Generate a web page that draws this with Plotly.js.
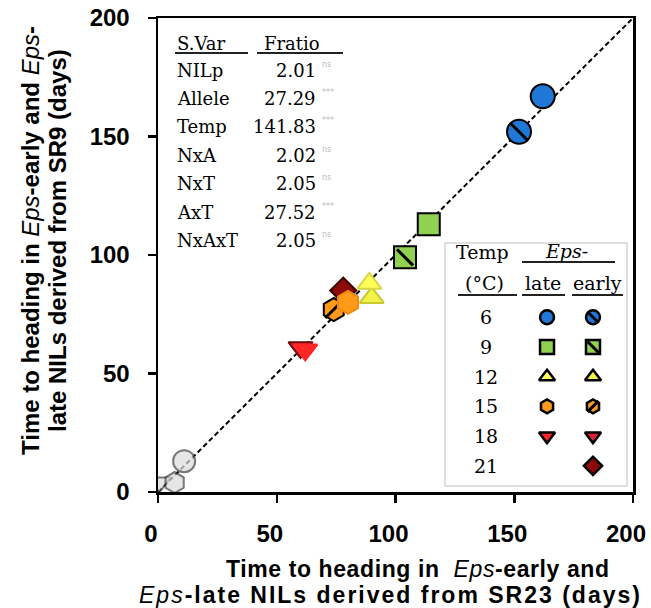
<!DOCTYPE html>
<html><head><meta charset="utf-8">
<script src="https://cdn.plot.ly/plotly-3.0.1.min.js"></script>
<style>html,body{margin:0;padding:0;background:#fff}</style>
</head><body><div id="chart" style="width:651px;height:608px"></div>
<script>
// ---- data ----
const temps = [6, 9, 12, 15, 18, 21];
const lateSR23  = [162, 114, 89, 80, 62, null];
const lateSR9   = [167, 113, 88, 80, 60, null];
const earlySR23 = [152, 104, 90, 74, 60, 78];
const earlySR9  = [152, 99, 82, 77, 61, 85];
const otherSR23 = [11, 0.5, 7];
const otherSR9  = [13, 4, 4];
const oneToOne  = [0, 200];
const axisTicks = [0, 50, 100, 150, 200];
const sourceVars = ['NILp', 'Allele', 'Temp', 'NxA', 'NxT', 'AxT', 'NxAxT'];
const fRatios    = ['2.01', '27.29', '141.83', '2.02', '2.05', '27.52', '2.05'];
const signif     = ['ns', '***', '***', 'ns', 'ns', '***', 'ns'];

// ---- styles ----
const symbols = ['circle', 'square', 'triangle-up', 'hexagon', 'triangle-down', 'diamond'];
const lateFill  = ['#1f78d6', '#92d050', '#ffff5a', '#ff9a1a', '#ff2626', '#8e0a0a'];
const lateEdge  = ['#000', '#000', '#d8d840', '#f08a10', '#ff2626', '#000'];
const earlyFill = ['#1f78d6', '#92d050', '#f2f24a', '#ff9a1a', '#e0203a', '#8e0a0a'];
const earlyEdge = ['#000', '#000', '#c8c830', '#000', '#6a0a0a', '#3a0000'];
const stripeSym = ['line-nw', 'line-nw', null, 'line-ne', null, null];
const mainSize = [24, 22, 21, 23, 21, 20];

// pixel -> paper helpers (plot area 158..633 x 18..492)
const L = 158, T = 18, PW = 475, PH = 474;
const px = x => (x - L) / PW;
const py = y => (T + PH - y) / PH;

const traces = [];
traces.push({x: oneToOne, y: oneToOne, mode: 'lines', type: 'scatter',
  line: {color: '#000', width: 2, dash: '5px,3px'}, hoverinfo: 'skip'});
traces.push({x: otherSR23, y: otherSR9, mode: 'markers', type: 'scatter',
  marker: {symbol: ['circle', 'triangle-down', 'hexagon'], size: [22, 20, 21],
    color: '#dcdcdc', line: {color: '#404040', width: 2}}});
// early
temps.forEach((t, i) => {
  if (earlySR23[i] == null) return;
  traces.push({x: [earlySR23[i]], y: [earlySR9[i]], mode: 'markers', type: 'scatter',
    marker: {symbol: symbols[i], size: mainSize[i], color: earlyFill[i], line: {color: earlyEdge[i], width: 2}}});
  if (stripeSym[i]) traces.push({x: [earlySR23[i]], y: [earlySR9[i]], mode: 'markers', type: 'scatter',
    marker: {symbol: stripeSym[i], size: mainSize[i] - 6, line: {color: '#000', width: 3}}});
});
// late
temps.forEach((t, i) => {
  if (lateSR23[i] == null) return;
  traces.push({x: [lateSR23[i]], y: [lateSR9[i]], mode: 'markers', type: 'scatter',
    marker: {symbol: symbols[i], size: mainSize[i], color: lateFill[i], line: {color: lateEdge[i], width: 2}}});
});
// legend-table markers (own hidden axes: x = column, y = row)
const rows = temps.map((t, i) => i);
const lateCol = temps.map(() => 0), earlyCol = temps.map(() => 1);
traces.push({x: lateCol.filter((c, i) => lateSR23[i] != null), y: rows.filter(i => lateSR23[i] != null),
  xaxis: 'x2', yaxis: 'y2', mode: 'markers', type: 'scatter',
  marker: {symbol: symbols.filter((s, i) => lateSR23[i] != null), size: 14,
    color: lateFill.filter((c, i) => lateSR23[i] != null), line: {color: '#000', width: 2.5}}});
traces.push({x: earlyCol, y: rows, xaxis: 'x2', yaxis: 'y2', mode: 'markers', type: 'scatter',
  marker: {symbol: symbols, size: 14, color: earlyFill, line: {color: '#000', width: 2.5}}});
traces.push({x: earlyCol.filter((c, i) => stripeSym[i]), y: rows.filter(i => stripeSym[i]),
  xaxis: 'x2', yaxis: 'y2', mode: 'markers', type: 'scatter',
  marker: {symbol: stripeSym.filter(s => s), size: 11, line: {color: '#000', width: 3}}});

const tickFont = {family: 'Liberation Sans, Arial', size: 24, color: '#000', weight: 'bold'};
const serif = {family: 'DejaVu Serif', size: 18, color: '#000'};
const legSerif = {family: 'DejaVu Serif', size: 19, color: '#000'};
const titleFont = {family: 'Liberation Sans, Arial', size: 23, color: '#000', weight: 'bold'};
const ytitleFont = {family: 'Liberation Sans, Arial', size: 24, color: '#000', weight: 'bold'};
const EPS = '<span style="font-weight:normal;font-style:italic">Eps</span>';

const ann = [];
const shapes = [];
// axis titles
ann.push({xref: 'paper', yref: 'paper', x: px(30), y: py(241), text: 'Time to heading in ' + EPS + '-early and ' + EPS + '-',
  textangle: -90, showarrow: false, font: ytitleFont, xanchor: 'center', yanchor: 'middle'});
ann.push({xref: 'paper', yref: 'paper', x: px(57), y: py(241), text: 'late NILs derived from SR9 (days)',
  textangle: -90, showarrow: false, font: ytitleFont, xanchor: 'center', yanchor: 'middle'});
ann.push({xref: 'paper', yref: 'paper', x: px(418), y: py(569),
  text: '<span style="letter-spacing:0.6px">Time to heading in  ' + EPS + '-early and</span>',
  showarrow: false, font: titleFont, xanchor: 'center', yanchor: 'middle'});
ann.push({xref: 'paper', yref: 'paper', x: px(390), y: py(595),
  text: '<span style="letter-spacing:2px">' + EPS + '-late NILs derived from SR23 (days)</span>',
  showarrow: false, font: titleFont, xanchor: 'center', yanchor: 'middle'});
// ANOVA table
ann.push({xref: 'paper', yref: 'paper', x: px(175), y: py(43), text: 'S.Var', showarrow: false, font: serif, xanchor: 'left', yanchor: 'middle'});
ann.push({xref: 'paper', yref: 'paper', x: px(262), y: py(43), text: 'Fratio', showarrow: false, font: serif, xanchor: 'left', yanchor: 'middle'});
shapes.push({type: 'line', xref: 'paper', yref: 'paper', x0: px(175), x1: px(248), y0: py(53), y1: py(53), line: {color: '#222', width: 2}});
shapes.push({type: 'line', xref: 'paper', yref: 'paper', x0: px(257), x1: px(343), y0: py(53), y1: py(53), line: {color: '#222', width: 2}});
sourceVars.forEach((v, i) => {
  const yy = 70 + i * 28.4;
  ann.push({xref: 'paper', yref: 'paper', x: px(175), y: py(yy), text: v, showarrow: false, font: serif, xanchor: 'left', yanchor: 'middle'});
  ann.push({xref: 'paper', yref: 'paper', x: px(318), y: py(yy), text: fRatios[i], showarrow: false, font: serif, xanchor: 'right', yanchor: 'middle'});
  ann.push({xref: 'paper', yref: 'paper', x: px(320), y: py(yy - 6), text: signif[i], showarrow: false,
    font: {family: 'DejaVu Sans', size: 8, color: '#b8b8b8'}, xanchor: 'left', yanchor: 'middle'});
});
// legend table
shapes.push({type: 'rect', xref: 'paper', yref: 'paper', x0: px(445), x1: px(627), y0: py(486), y1: py(243),
  fillcolor: '#fff', line: {color: '#d6d6d6', width: 1.5}, layer: 'below'});
ann.push({xref: 'paper', yref: 'paper', x: px(482), y: py(252), text: 'Temp', showarrow: false, font: legSerif, xanchor: 'center', yanchor: 'middle'});
ann.push({xref: 'paper', yref: 'paper', x: px(484), y: py(283), text: '(°C)', showarrow: false, font: legSerif, xanchor: 'center', yanchor: 'middle'});
ann.push({xref: 'paper', yref: 'paper', x: px(566), y: py(251), text: '<i>Eps</i>-', showarrow: false, font: legSerif, xanchor: 'center', yanchor: 'middle'});
ann.push({xref: 'paper', yref: 'paper', x: px(543), y: py(283), text: 'late', showarrow: false, font: legSerif, xanchor: 'center', yanchor: 'middle'});
ann.push({xref: 'paper', yref: 'paper', x: px(597), y: py(283), text: 'early', showarrow: false, font: legSerif, xanchor: 'center', yanchor: 'middle'});
[[522, 615, 262], [458, 517, 295], [522, 565, 295], [572, 623, 295]].forEach(s => {
  shapes.push({type: 'line', xref: 'paper', yref: 'paper', x0: px(s[0]), x1: px(s[1]), y0: py(s[2]), y1: py(s[2]), line: {color: '#222', width: 2}});
});
temps.forEach((t, i) => {
  ann.push({xref: 'x2', yref: 'y2', x: -1.33, y: i, text: String(t), showarrow: false, font: legSerif, xanchor: 'center', yanchor: 'middle'});
});

const layout = {
  width: 651, height: 608, showlegend: false,
  margin: {l: L, r: 651 - L - PW, t: T, b: 608 - T - PH, pad: 0},
  paper_bgcolor: '#fff', plot_bgcolor: 'rgba(0,0,0,0)',
  xaxis: {range: [0, 200], tickvals: axisTicks, showgrid: false, zeroline: false, showline: true, mirror: true,
    linecolor: '#000', linewidth: 2.5, ticks: 'outside', ticklen: 8, tickwidth: 2.5, tickcolor: '#000',
    tickfont: tickFont, ticklabelstandoff: 11, ticklabelshift: -7, ticklabeloverflow: 'allow'},
  yaxis: {range: [0, 200], tickvals: axisTicks, showgrid: false, zeroline: false, showline: true, mirror: true,
    linecolor: '#000', linewidth: 2.5, ticks: 'outside', ticklen: 8, tickwidth: 2.5, tickcolor: '#000',
    tickfont: tickFont, ticklabelstandoff: 13, ticklabeloverflow: 'allow'},
  xaxis2: {domain: [px(445), px(627)], anchor: 'y2', range: [-2.22, 1.74], visible: false},
  yaxis2: {domain: [py(486), py(243)], anchor: 'x2', range: [5.68, -2.5], visible: false},
  annotations: ann, shapes: shapes
};
Plotly.newPlot('chart', traces, layout, {displayModeBar: false, staticPlot: true});
</script></body></html>
